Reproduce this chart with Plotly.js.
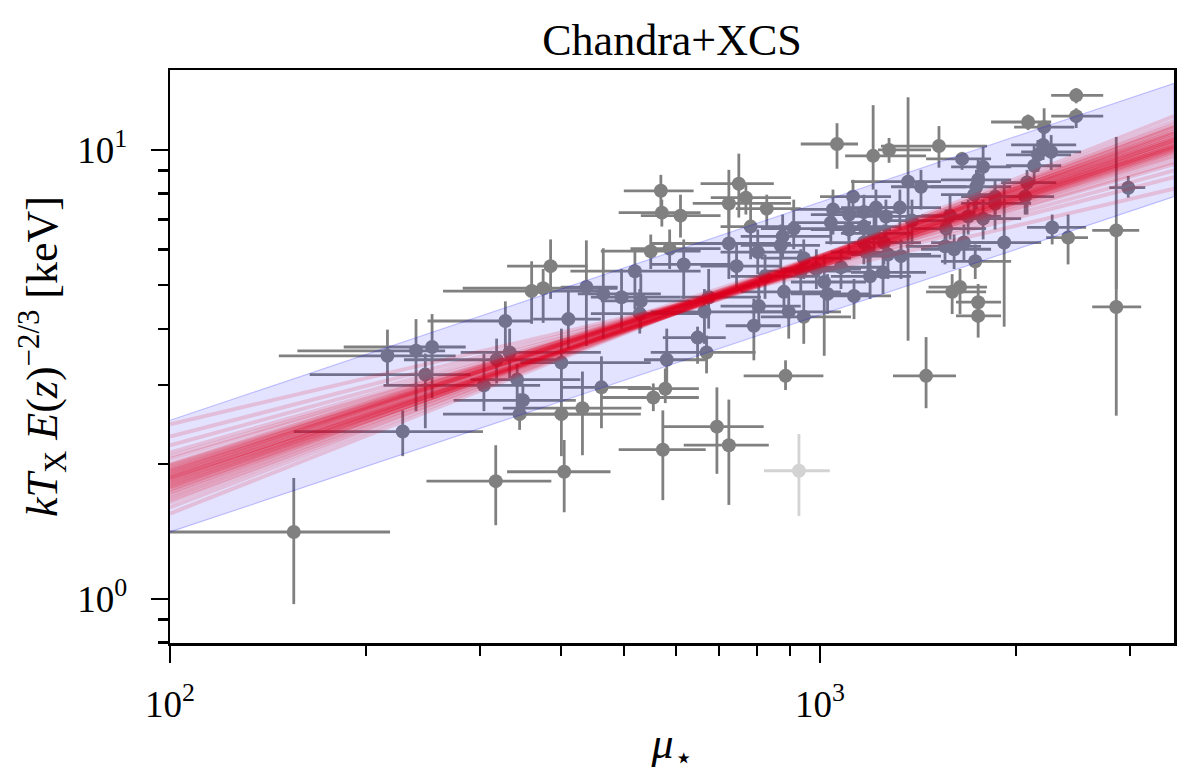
<!DOCTYPE html>
<html>
<head>
<meta charset="utf-8">
<script src="https://cdn.plot.ly/plotly-3.0.1.min.js"></script>
<style>html,body{margin:0;padding:0;background:#fff;}#chart{width:1200px;height:781px;}</style>
</head>
<body>
<div id="chart"></div>
<script>
// ---- cluster sample ----
const muStar = [155,228,216,239,253,247,318,333,304,342,349,345,400,400,431,461,317,404,385,360,375,437,410,328,464,495,
569,571,610,750,724,769,828,782,724,549,587,617,519,530,528,674,664,744,823,802,911,876,870,944,934,987,880,805,895,944,791,
648,581,669,885,578,554,694,724,573,
1062,1207,1277,1524,1366,1430,1654,1782,1751,1740,1726,1859,1859,1124,1047,1108,1168,1219,1263,1327,1385,1585,1690,1782,1563,
1039,1108,1168,1211,1168,1254,1557,1665,1920,1185,1272,1332,1077,1194,1250,1015,1027,1128,1608,1733,1597,1642,1751,1751,1456,
2478,2478,2090,2212,2204,2268,2164,2135,2082,2068,2980,2856,2856,2276,2408];
const kT = [1.41,2.36,3.48,3.57,3.64,3.16,3.41,3.54,2.99,3.08,2.77,2.58,3.36,2.58,2.66,2.96,1.83,1.92,5.51,4.85,4.92,4.95,4.20,4.16,4.78,4.70,
8.11,7.25,7.14,8.41,7.60,7.83,7.40,6.75,6.19,5.95,6.03,5.56,5.37,4.61,4.32,4.70,4.36,5.51,5.23,5.92,6.68,6.42,6.13,5.74,5.37,5.43,4.83,4.49,4.36,4.25,4.06,
3.82,3.41,3.54,3.14,2.94,2.81,2.42,2.20,2.15,
10.31,9.70,10.0,10.2,8.50,8.28,9.55,9.17,8.58,8.28,7.95,7.87,7.60,7.87,7.37,7.18,7.27,7.44,7.11,7.44,6.96,7.14,7.11,7.03,6.68,
6.89,6.65,6.75,6.52,6.22,6.22,6.10,6.22,6.22,5.92,5.85,5.80,5.48,5.23,5.34,5.08,4.78,4.73,6.01,5.65,4.83,4.95,4.58,4.27,3.14,
13.23,11.89,11.54,11.24,10.26,9.90,9.75,9.22,8.46,7.87,8.24,6.62,4.47,6.72,6.38];
const muLo = [98,155,147,157,185,164,229,280,213,290,273,263,346,346,325,399,248,330,330,263,282,399,362,249,424,444,
499,490,530,655,637,679,742,703,549,460,511,549,413,460,444,610,549,655,729,703,811,755,755,811,811,870,755,703,782,811,716,
573,536,549,763,506,460,571,617,490,
934,1093,1228,1241,1116,1286,1456,1591,1535,1482,1535,1648,1648,1000,902,968,1039,1077,1116,1156,1241,1430,1482,1591,1380,
902,968,1039,1077,1019,1116,1355,1482,1708,1039,1116,1156,934,1039,1116,902,902,1000,1430,1535,1456,1469,1619,1619,1295,
2268,2268,1833,1989,1968,2039,1933,1933,1899,1833,2786,2623,2623,2082,2228];
const muHi = [218,303,275,265,285,290,399,460,371,428,421,464,549,530,531,549,386,476,439,460,488,488,460,361,569,610,
639,655,703,849,902,902,934,934,902,655,703,755,655,632,655,811,902,870,1000,934,1039,1039,1000,1116,1116,1156,1077,934,1077,1116,870,
716,667,796,1012,651,651,819,834,667,
1144,1456,1482,1807,1535,1677,1833,1968,1968,1968,1899,2112,2112,1286,1241,1286,1332,1430,1482,1535,1591,1833,1899,2039,1801,
1198,1286,1332,1380,1332,1430,1769,1899,2189,1355,1482,1535,1241,1380,1456,1177,1198,1286,1833,1968,1801,1807,1899,1899,1619,
2727,2727,2268,2461,2478,2522,2434,2350,2309,2292,3165,3098,3120,2567,2584];
const kTLo = [0.974,2.08,2.99,2.62,2.80,2.40,3.02,3.10,2.62,2.66,2.55,2.38,2.80,2.08,2.09,2.40,1.46,1.56,4.66,4.10,4.12,3.66,3.61,3.57,3.80,4.00,
7.48,6.75,6.38,7.07,6.75,7.18,6.65,5.71,5.16,5.43,5.43,4.66,4.42,4.00,3.90,4.00,3.70,4.90,4.66,5.29,6.01,5.71,5.43,5.16,4.78,4.90,4.31,4.00,3.80,3.70,3.40,
3.34,3.02,3.18,2.92,2.73,2.62,1.90,1.62,1.66,
9.08,8.16,9.36,9.13,3.76,7.37,9.03,8.37,7.75,7.37,7.18,7.18,6.65,7.18,6.48,6.32,6.48,6.65,6.32,6.65,6.16,6.32,6.48,6.32,6.01,
6.16,5.85,6.01,5.85,5.56,5.56,5.56,5.65,4.04,5.29,5.16,5.16,4.90,4.66,4.78,3.48,4.31,4.20,5.43,5.16,4.31,4.31,4.20,3.82,2.66,
12.7,11.19,11.07,10.0,9.50,9.03,8.94,8.37,7.18,7.18,7.83,4.90,2.56,6.16,5.56];
const kTHi = [1.86,2.63,3.98,4.20,4.31,3.52,3.80,4.00,3.52,3.34,3.02,2.87,4.00,3.02,3.21,3.47,2.20,2.26,6.32,5.65,5.43,6.29,4.85,4.60,6.04,5.43,
8.80,7.75,7.95,9.81,9.03,8.35,7.95,7.75,7.37,6.48,6.65,6.32,6.01,5.29,4.90,5.43,4.90,6.16,5.85,6.65,7.75,7.18,6.82,6.32,6.01,6.01,5.43,5.03,4.90,4.78,4.66,
4.04,4.00,3.86,3.40,3.26,3.02,2.96,2.78,2.63,
11.47,12.58,10.63,11.3,13.1,9.03,9.90,10.26,9.50,9.03,8.58,8.58,8.37,8.58,8.16,7.95,7.95,8.16,7.75,8.16,7.75,7.95,7.75,7.75,7.37,
7.55,7.37,7.37,7.18,6.82,6.82,6.65,6.82,8.58,6.48,6.32,6.32,6.01,5.85,5.85,5.85,5.29,5.16,6.48,6.16,5.29,5.43,5.03,4.66,3.83,
13.72,12.38,11.99,12.38,11.07,10.79,10.52,10.26,9.03,8.58,8.75,10.69,6.82,7.18,7.18];

// excluded (light grey) cluster
const outMu = [928], outKT = [1.93], outMuLo = [820], outMuHi = [1035], outKTLo = [1.53], outKTHi = [2.33];

// intrinsic scatter band (at the ends of the mu range)
const bandMu = [100, 3505];
const bandLow = [1.41, 7.87];
const bandHigh = [2.50, 14.07];

// posterior fit lines: value at mu=100 and at mu=3505
const fitMu = [100, 3505];
const fitAtLow = [1.86,1.80,1.92,1.75,1.98,1.83,1.89,1.70,2.05,1.78,1.95,1.64,2.12,1.86,1.81,1.90,1.73,2.00,1.68,1.93,
1.84,1.77,2.20,1.60,1.88,1.96,1.72,1.85,2.30,1.55,1.91,1.79,2.08,1.66,1.87,1.82,2.45,1.99,1.76,1.94];
const fitAtHigh = [10.3,10.5,10.1,10.7,9.9,10.2,10.4,11.0,9.6,10.9,10.0,11.3,9.3,10.6,10.2,10.5,11.0,9.8,11.4,10.2,
10.0,10.8,9.0,11.6,10.7,9.7,11.2,10.1,8.7,11.9,10.3,10.4,9.4,11.2,9.9,10.9,8.2,10.1,10.5,10.6];

const ptColor = '#808080';
const traces = [];
traces.push({
  x: muStar, y: kT, type: 'scatter', mode: 'markers',
  marker: {color: ptColor, size: 14},
  error_x: {type:'data', symmetric:false, array: muHi.map((v,i)=>v-muStar[i]), arrayminus: muStar.map((v,i)=>v-muLo[i]), color: ptColor, thickness: 2.8, width: 0},
  error_y: {type:'data', symmetric:false, array: kTHi.map((v,i)=>v-kT[i]), arrayminus: kT.map((v,i)=>v-kTLo[i]), color: ptColor, thickness: 2.8, width: 0},
  hoverinfo: 'skip', showlegend: false
});
traces.push({
  x: outMu, y: outKT, type: 'scatter', mode: 'markers',
  marker: {color: '#d3d3d3', size: 14},
  error_x: {type:'data', symmetric:false, array: outMuHi.map((v,i)=>v-outMu[i]), arrayminus: outMu.map((v,i)=>v-outMuLo[i]), color: '#d3d3d3', thickness: 2.8, width: 0},
  error_y: {type:'data', symmetric:false, array: outKTHi.map((v,i)=>v-outKT[i]), arrayminus: outKT.map((v,i)=>v-outKTLo[i]), color: '#d3d3d3', thickness: 2.8, width: 0},
  hoverinfo: 'skip', showlegend: false
});
traces.push({
  x: [bandMu[0], bandMu[1], bandMu[1], bandMu[0]],
  y: [bandHigh[0], bandHigh[1], bandLow[1], bandLow[0]],
  type: 'scatter', mode: 'lines', fill: 'toself',
  fillcolor: 'rgba(0,0,255,0.11)', line: {color: 'rgba(0,0,255,0.22)', width: 1.2},
  hoverinfo: 'skip', showlegend: false
});
for (let i = 0; i < fitAtLow.length; i++) {
  traces.push({
    x: fitMu, y: [fitAtLow[i], fitAtHigh[i]], type: 'scatter', mode: 'lines',
    line: {color: 'rgba(225,0,30,0.16)', width: 4},
    hoverinfo: 'skip', showlegend: false
  });
}

const FONT = 'Liberation Serif, DejaVu Serif, serif';
const axisCommon = {
  type: 'log', showgrid: false, zeroline: false,
  showline: true, linecolor: '#000', linewidth: 2.5, mirror: true,
  ticks: 'outside', ticklen: 17, tickwidth: 2.5, tickcolor: '#000',
  tickfont: {family: FONT, size: 37, color: '#000'}
};
const layout = {
  width: 1200, height: 781,
  margin: {l: 170, r: 26, t: 70, b: 138},
  paper_bgcolor: '#fff', plot_bgcolor: '#fff',
  showlegend: false,
  title: {text: 'Chandra+XCS', font: {family: FONT, size: 44, color: '#000'},
          x: 0.5, xref: 'paper', xanchor: 'center', y: 1 - 40/781, yref: 'container', yanchor: 'middle'},
  xaxis: Object.assign({}, axisCommon, {
    range: [1.9999, 3.5446],
    tickmode: 'array', tickvals: [100, 1000], ticktext: ['10<sup>2</sup>', '10<sup>3</sup>'],
    ticklabelstandoff: 10,
    minor: {tickmode: 'array', tickvals: [200,300,400,500,600,700,800,900,2000,3000], ticks: 'outside', ticklen: 10, tickwidth: 2.2, tickcolor: '#000', showgrid: false},
    title: {text: '<i>μ</i><sub>⋆</sub>', font: {family: FONT, size: 44, color: '#000'}, standoff: 4}
  }),
  yaxis: Object.assign({}, axisCommon, {
    range: [-0.098, 1.178],
    tickmode: 'array', tickvals: [1, 10], ticktext: ['10<sup>0</sup>', '10<sup>1</sup>'],
    ticklabelstandoff: 16,
    minor: {tickmode: 'array', tickvals: [0.8,0.9,2,3,4,5,6,7,8,9], ticks: 'outside', ticklen: 10, tickwidth: 2.2, tickcolor: '#000', showgrid: false},
    title: {text: '<i>kT</i><sub>X</sub> <i>E</i>(<i>z</i>)<sup>−2/3</sup> [keV]', font: {family: FONT, size: 44, color: '#000'}, standoff: 6}
  })
};
Plotly.newPlot('chart', traces, layout, {displayModeBar: false, staticPlot: true});
</script>
</body>
</html>
